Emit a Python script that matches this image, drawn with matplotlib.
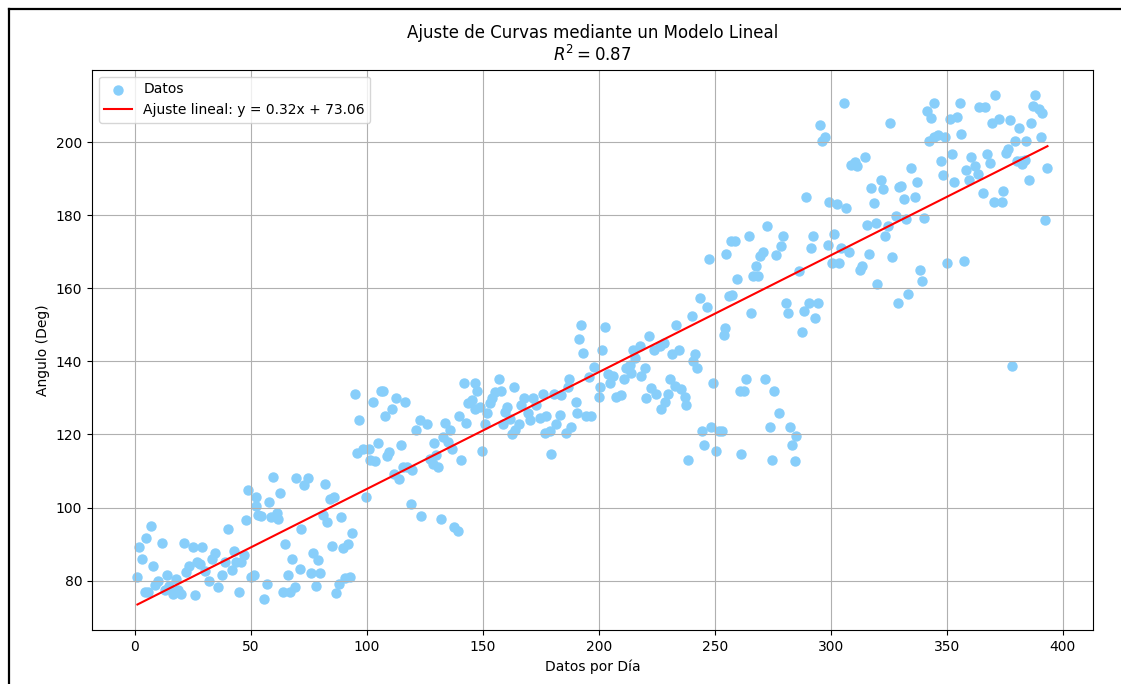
# plot.py
"""
Ajuste de curvas: dispersión de ángulos por día y recta de ajuste lineal.
Guarda la figura en out.png.
"""

import matplotlib
matplotlib.use("Agg")
import matplotlib.pyplot as plt
from matplotlib.lines import Line2D

# ---------- DATOS ----------
dias = [
    1.2, 1.9, 3.2, 4.3, 5.0, 5.9, 7.0, 7.9, 8.9, 10.0, 11.8, 12.9, 13.9, 14.7,
    16.5, 17.7, 18.7, 20.1, 21.1, 22.3, 23.3, 25.1, 25.9, 26.9, 28.0, 28.9,
    30.2, 32.0, 33.5, 34.8, 35.9, 37.8, 39.1, 40.1, 41.9, 42.7, 43.8, 45.0,
    45.7, 47.1, 48.0, 48.7, 50.3, 51.3, 52.2, 52.5, 53.2,
    54.6, 55.7, 57.0, 58.0, 58.9, 59.6, 61.5, 61.9, 62.8, 63.9, 64.9, 65.9,
    67.1, 68.0, 69.0, 69.7, 71.1, 71.8, 72.8, 74.7, 75.9, 76.9, 78.0, 79.0,
    79.7, 81.2, 82.0, 82.9, 84.0, 85.0, 85.8, 86.6, 87.9, 88.9, 89.8, 90.8,
    91.9, 92.7, 93.7, 94.8, 95.8, 96.7, 98.4, 99.6, 101.0, 101.6, 102.7,
    103.4, 104.9, 106.3, 107.0, 108.0, 108.9, 109.6, 111.0, 111.8, 112.8,
    113.8, 114.9, 115.6, 116.6, 117.2, 119.0, 119.7,
    121.4, 122.8, 123.6, 126.0, 127.2, 128.6, 129.0, 130.0, 130.7, 131.9,
    132.9, 133.6, 135.0, 135.8, 136.8, 137.6, 139.4, 139.8, 140.8, 141.9,
    143.0, 143.7, 145.4, 146.6, 146.8, 147.7, 148.7, 149.7, 150.9, 152.0,
    153.0, 154.0, 155.2, 156.9, 157.8, 158.8, 159.5, 160.6, 161.9, 162.8,
    163.5, 163.8, 165.7, 166.7, 167.7, 169.5, 170.3, 171.7, 173.1, 174.6,
    176.0, 176.7, 177.4, 179.2, 179.6, 180.7, 181.8, 183.5, 183.9, 186.1,
    186.8, 187.2, 188.2, 190.0, 190.7, 191.5, 192.5, 193.3,
    194.4, 195.8, 196.8, 197.8, 200.1, 200.7, 201.6, 202.9, 204.0, 205.0,
    206.2, 207.6, 209.5, 210.8, 211.9, 213.4, 214.1, 214.8, 215.8, 217.7,
    218.4, 219.8, 220.5, 221.6, 222.7, 223.7, 224.9, 226.3, 227.0, 228.0,
    228.4, 229.9, 230.9, 231.6, 232.8, 233.5, 234.6, 235.6, 237.1, 237.8,
    238.5, 240.0, 240.6, 241.4, 242.4, 243.8, 244.7, 245.4, 246.7, 247.5,
    248.6, 249.3, 250.7, 251.9, 253.3, 253.9, 254.6, 255.0, 256.2,
    256.9, 257.5, 258.6, 259.4, 260.8, 261.5, 262.6, 263.6, 264.7, 265.5,
    266.5, 267.7, 268.7, 269.4, 270.8, 271.6, 272.4, 273.7, 274.7, 275.6,
    276.3, 277.6, 278.4, 279.4, 280.6, 281.6, 282.5, 283.3, 284.5, 285.2,
    286.2, 287.6, 288.5, 289.4, 290.5, 291.4, 292.4, 293.1, 294.5, 295.5,
    296.4, 297.4, 298.6, 299.3, 300.6, 301.4, 302.6, 303.4, 304.6, 305.6,
    306.5, 307.8, 308.9, 310.3, 311.5, 312.5, 313.5, 314.7, 315.7, 316.4,
    317.5, 318.7, 319.7, 320.1, 321.6, 322.5, 323.3, 324.7, 325.4, 326.4,
    328.3, 328.8, 329.3,
    330.2, 331.6, 332.6, 333.3, 334.8, 336.2, 337.2, 338.4, 339.5, 340.2,
    341.5, 342.4, 343.4, 344.4, 344.5, 346.3, 347.3, 348.4, 349.4, 350.1,
    351.3, 352.4, 353.1, 354.2, 355.6, 356.3, 357.3, 358.5, 359.5, 360.3,
    362.1, 363.5, 363.8, 365.7, 366.4, 367.4, 368.5, 369.5, 370.4, 371.0,
    372.4, 373.6, 374.3, 375.4, 376.4, 377.2, 378.2, 379.6, 380.3, 381.0,
    382.2, 382.6, 383.6, 384.3, 385.5, 386.2, 387.2, 388.2, 389.7, 390.4,
    391.2, 392.5, 393.4,
]

angulos = [
    81.1, 89.1, 86.0, 77.0, 91.7, 76.8, 94.9, 84.1, 78.9, 80.0, 90.3, 77.3, 81.6, 78.4,
    76.3, 80.5, 77.3, 76.2, 90.3, 82.3, 84.1, 89.1, 76.1, 85.0, 84.6, 89.1,
    82.7, 80.0, 86.0, 87.6, 78.2, 81.4, 85.0, 94.0, 83.0, 88.0, 85.0, 77.0,
    85.0, 87.1, 96.7, 104.7, 80.9, 81.6, 100.4, 102.9, 98.0,
    97.8, 75.0, 79.1, 101.5, 97.4, 108.4, 98.5, 96.9, 104.1, 76.8, 90.1, 81.6,
    76.8, 86.0, 78.2, 108.0, 83.1, 94.0, 106.1, 108.1, 82.1, 87.5, 78.5, 85.5,
    82.1, 98.0, 106.5, 96.0, 102.2, 89.6, 103.0, 76.6, 79.1, 97.4, 89.0, 80.6,
    89.9, 81.1, 93.0, 131.0, 115.0, 123.9, 115.9, 102.9, 115.9, 113.0, 129.0,
    112.8, 117.8, 132.0, 132.0, 125.0, 114.0, 115.1, 127.0, 109.3, 130.1,
    107.9, 117.1, 111.1, 129.0, 111.1, 101.0, 110.2,
    121.2, 123.9, 97.8, 123.0, 113.4, 112.0, 117.8, 114.3, 111.1, 96.9,
    119.2, 123.2, 118.0, 121.2, 116.0, 94.8, 93.7, 125.0, 113.0, 134.0,
    123.2, 128.5, 129.4, 127.1, 134.0, 132.0, 127.6, 115.4, 123.0, 125.8,
    128.5, 129.9, 131.7, 135.1, 132.0, 123.0, 126.2, 127.4, 124.2, 120.0,
    133.1, 121.2, 123.0, 128.2, 129.9, 125.8, 123.9, 129.9, 128.0, 124.4,
    131.0, 120.3, 125.0, 120.9, 114.6, 131.1, 123.0, 125.3, 130.8, 120.3,
    132.9, 135.1, 122.1, 129.0, 125.9, 146.1, 150.0, 142.2,
    125.1, 135.8, 125.1, 138.6, 130.3, 133.1, 143.2, 149.4, 136.7, 134.0,
    136.0, 130.2, 130.8, 135.1, 138.1, 139.0, 136.9, 143.2, 140.9, 144.1,
    136.0, 138.1, 130.1, 147.0, 132.8, 143.2, 131.1, 144.1, 127.1, 145.0,
    129.0, 131.0, 135.2, 142.1, 133.3, 150.0, 143.2, 132.4, 130.3, 128.2,
    113.0, 152.5, 140.1, 142.0, 138.1, 157.5, 120.9, 117.1, 155.0, 168.0,
    122.1, 134.0, 115.4, 120.9, 120.9, 147.3, 149.1, 169.5, 158.0,
    172.9, 158.1, 172.9, 162.6, 132.0, 114.6, 132.0, 135.1, 174.3, 153.2,
    163.3, 166.2, 163.3, 168.8, 170.0, 135.1, 177.0, 122.1, 113.0, 132.0,
    169.2, 126.0, 171.7, 174.3, 156.1, 153.2, 122.1, 117.1, 112.7, 119.6,
    164.8, 148.2, 153.9, 185.1, 156.1, 171.1, 174.3, 152.0, 156.1, 204.7,
    200.5, 201.5, 172.0, 183.6, 167.0, 175.0, 183.0, 167.0, 171.1, 210.9,
    181.9, 170.0, 193.7, 194.6, 193.5, 165.1, 166.2, 196.0, 177.5, 169.5,
    187.5, 183.5, 178.0, 161.3, 189.7, 187.1, 174.3, 177.0, 205.2, 168.5,
    179.9, 156.1, 187.8,
    188.1, 184.6, 179.1, 158.5, 193.1, 185.0, 189.2, 165.0, 162.0, 179.3,
    208.6, 200.5, 206.6, 210.9, 201.5, 202.0, 194.9, 191.0, 201.5, 167.0,
    206.5, 196.7, 189.2, 207.0, 210.9, 202.2, 167.6, 192.3, 189.8, 196.0,
    193.5, 191.2, 209.6, 186.2, 209.6, 196.7, 194.3, 205.2, 183.7, 212.9,
    206.5, 183.7, 186.6, 197.2, 198.1, 206.1, 138.8, 200.5, 195.0, 204.0,
    195.0, 194.1, 195.3, 200.5, 189.8, 205.2, 210.0, 212.9, 209.0, 201.5,
    207.9, 178.6, 193.1,
]

# Parámetros del ajuste (tal como aparecen en la leyenda)
PENDIENTE = 0.32
INTERCEPTO = 73.06
R2 = 0.87
# -----------------------------------------------


def main():
    fig = plt.figure(figsize=(11.21, 6.84), dpi=100)
    ax = fig.add_axes([0.082, 0.079, 0.893, 0.819])

    ax.scatter(dias, angulos, s=42, color="lightskyblue", label="Datos")

    # Recta de ajuste sobre el rango de los datos
    x_fit = [min(dias), max(dias)]
    y_fit = [PENDIENTE * x + INTERCEPTO for x in x_fit]
    ax.plot(x_fit, y_fit, color="red",
            label=f"Ajuste lineal: y = {PENDIENTE:.2f}x + {INTERCEPTO:.2f}")

    ax.set_title(f"Ajuste de Curvas mediante un Modelo Lineal\n$R^2 = {R2:.2f}$", fontsize=12)
    ax.set_xlabel("Datos por Día")
    ax.set_ylabel("Angulo (Deg)")
    ax.grid(True)
    ax.legend(loc="upper left")

    # Marco negro de la figura (lados superior e izquierdo visibles)
    x0 = 8.5 / 1121
    y0 = 1 - 8.5 / 684
    fig.add_artist(Line2D([x0, x0], [0, y0], transform=fig.transFigure, color="black", lw=1.6))
    fig.add_artist(Line2D([x0, 1], [y0, y0], transform=fig.transFigure, color="black", lw=1.6))

    fig.savefig("out.png", dpi=100)


if __name__ == "__main__":
    main()
